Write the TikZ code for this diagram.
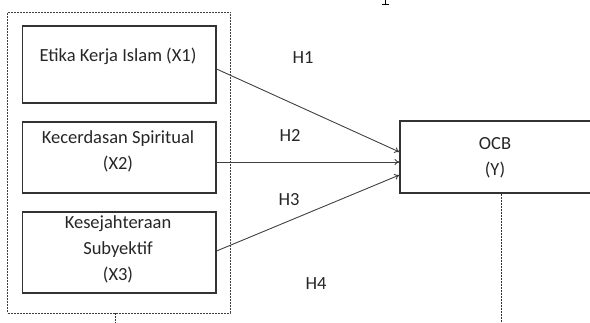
\documentclass[tikz,border=0pt]{standalone}
\usepackage{fontspec}
\setmainfont{Carlito}
\usetikzlibrary{arrows.meta}
\tikzset{
  grpbox/.style={draw=black!75, line width=0.9pt, dash pattern=on 2pt off 1pt, inner sep=0pt},
  varbox/.style={draw=black!80, line width=1.1pt, inner sep=0pt},
  lbl/.style={font=\fontsize{18.5}{26}\selectfont, text=black!85, align=center, inner sep=0pt},
  hyp/.style={font=\fontsize{18.5}{26}\selectfont, text=black!85, inner sep=0pt},
  conn/.style={draw=black!75, line width=0.9pt, -{To[length=5pt,width=6pt]}},
  dline/.style={draw=black!80, line width=0.9pt, dash pattern=on 2pt off 1pt}
}
\begin{document}
\begin{tikzpicture}[x=1pt,y=-1pt]
\useasboundingbox (0,0) rectangle (590,323);
% group box
\node[grpbox, minimum width=222.5pt, minimum height=301pt] (grp) at (118.75,162.5) {};
% variable boxes
\node[varbox, minimum width=193.5pt, minimum height=77pt] (b1) at (119.25,64.5) {};
\node[varbox, minimum width=193.5pt, minimum height=71pt] (b2) at (119.25,157.5) {};
\node[varbox, minimum width=193.5pt, minimum height=81pt] (b3) at (119.25,252.5) {};
\node[varbox, minimum width=200pt, minimum height=72pt] (y) at (500,157) {};
% labels
\node[lbl] (t1) at (118,56) {Etika Kerja Islam (X1)};
\node[lbl] (t2) at (118,151) {Kecerdasan Spiritual\\(X2)};
\node[lbl] (t3) at (118,249) {Kesejahteraan\\Subyektif\\(X3)};
\node[lbl] (ty) at (495,158) {OCB\\(Y)};
% hypotheses
\node[hyp] (h1) at (303,57.5) {H1};
\node[hyp] (h2) at (290,135) {H2};
\node[hyp] (h3) at (289,200) {H3};
\node[hyp] (h4) at (316,284) {H4};
% connectors
\draw[conn] ([yshift=-4.5pt]b1.east) -- ([yshift=5pt]y.west);
\draw[conn] ([yshift=-4.5pt]b2.east) -- ([yshift=-5pt]y.west);
\draw[conn] ([yshift=1.5pt]b3.east) -- ([yshift=-18pt]y.west);
% dashed stubs
\coordinate (gend) at (115,323);
\coordinate (yend) at (501,323);
\draw[dline] (grp.south -| gend) -- (gend);
\draw[dline] (y.south -| yend) -- (yend);
% cropped glyph fragment at top
\draw[black, line width=1pt] (385,0) -- (385,4.5);
\draw[black, line width=0.8pt] (382,4.5) -- (388.5,4.5);
\end{tikzpicture}
\end{document}
